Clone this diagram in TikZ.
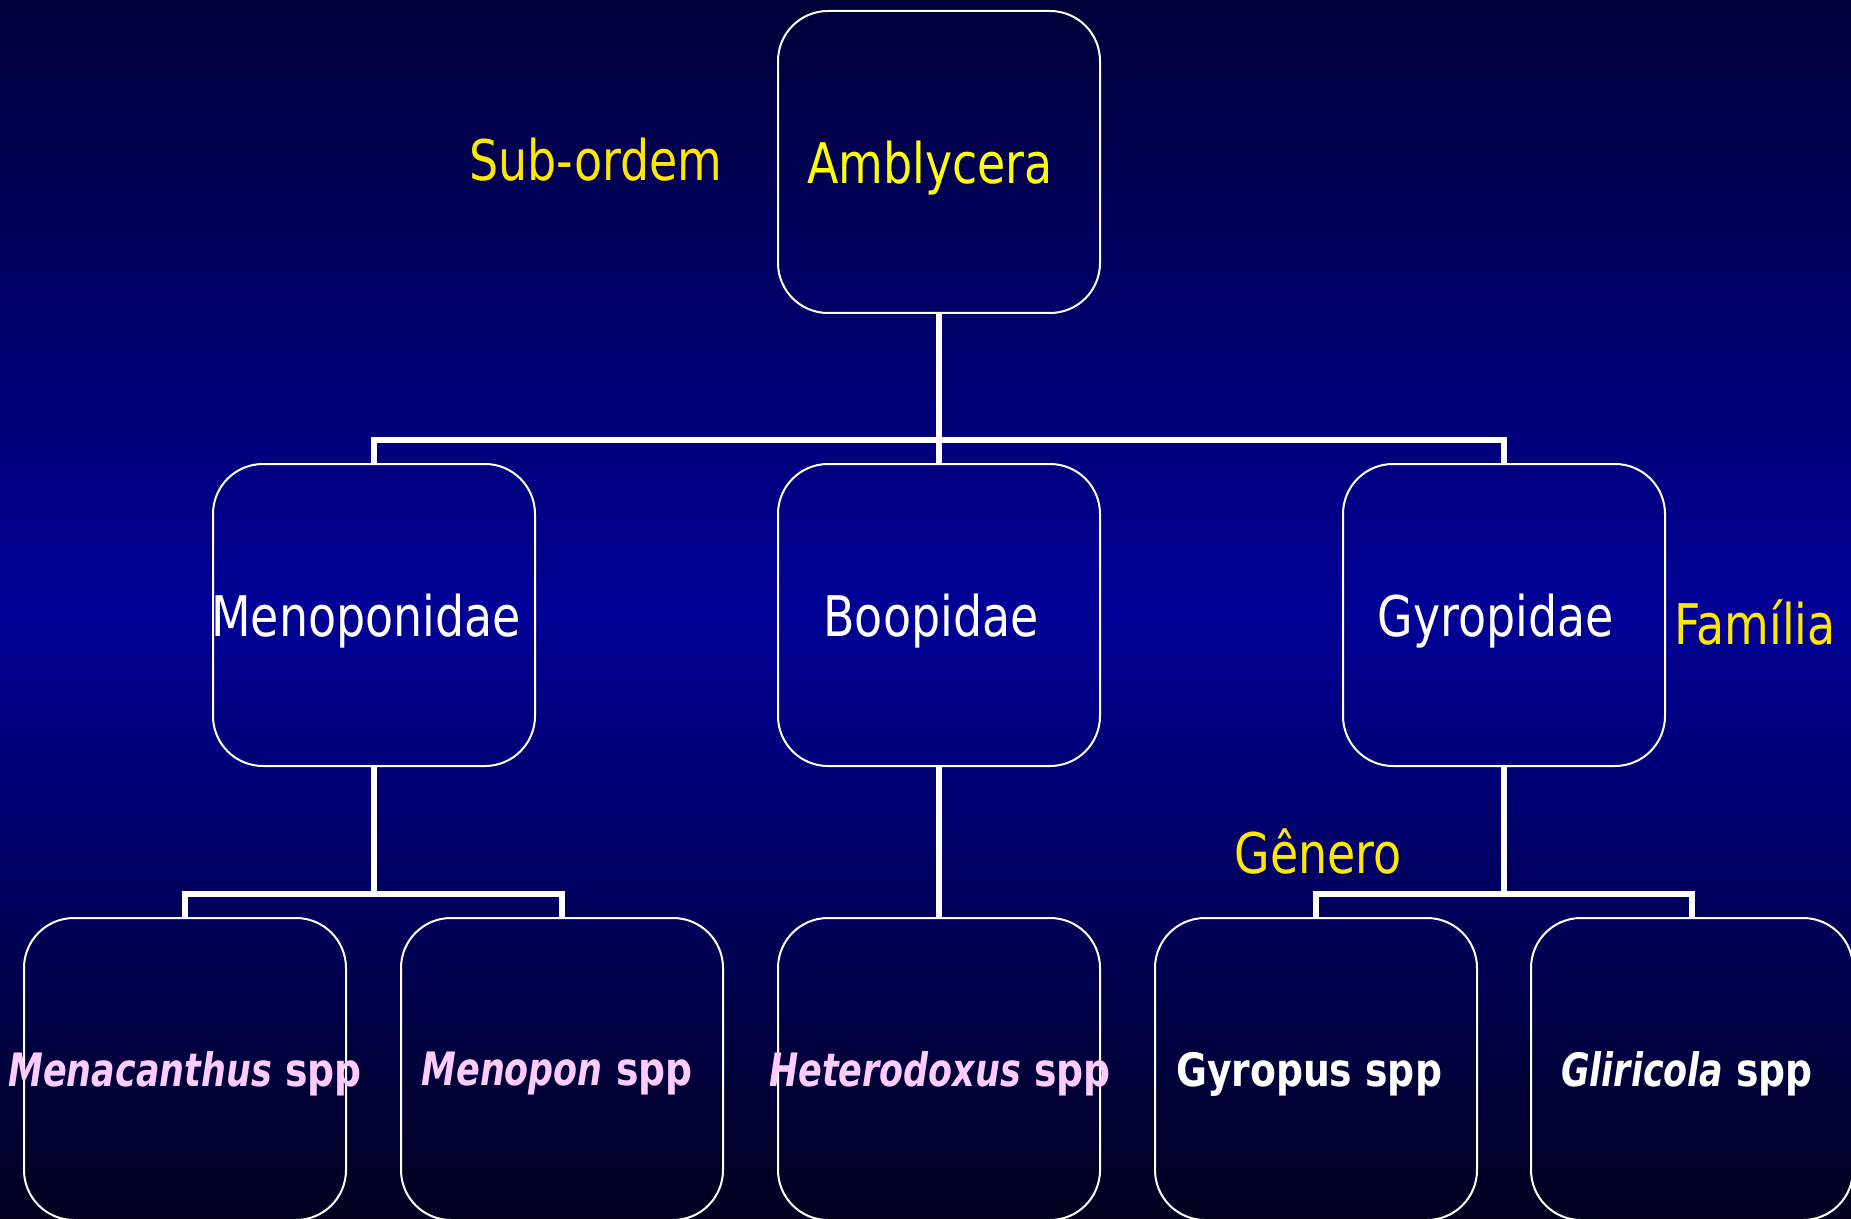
\documentclass[tikz,border=0pt]{standalone}
\usepackage{fontspec}
\setmainfont{DejaVu Sans}[FakeStretch=0.82, BoldItalicFeatures={FakeStretch=0.76}]
\usetikzlibrary{calc}
\definecolor{bgtop}{RGB}{0,0,56}
\definecolor{bgmid}{RGB}{0,0,150}
\definecolor{bgbot}{RGB}{0,0,30}
\definecolor{rankyellow}{RGB}{255,232,0}
\definecolor{taxyellow}{RGB}{255,255,0}
\definecolor{genpink}{RGB}{255,204,255}
\tikzset{
  taxbox/.style={draw=white, line width=1pt, rounded corners=25pt,
    minimum width=161pt, minimum height=151pt, inner sep=0pt},
  taxtext/.style={inner sep=0pt, text=white, font=\fontsize{28}{34}\selectfont},
  gentext/.style={inner sep=0pt, text=white, font=\fontsize{23}{28}\selectfont\bfseries},
  rank/.style={text=rankyellow, inner sep=0pt, font=\fontsize{28}{34}\selectfont},
  conn/.style={draw=white, line width=2.8pt}
}
\begin{document}
\begin{tikzpicture}[x=0.5pt, y=-0.5pt]
  % slide background
  \shade[top color=bgtop, bottom color=bgbot, middle color=bgmid]
    (0,0) rectangle (1851,1219);
  \useasboundingbox (0,0) rectangle (1851,1219);

  % boxes: sub-order, families, genera
  \node[taxbox] (amb) at (939,162) {};
  \node[taxbox] (meno) at (374,615) {};
  \node[taxbox] (boop) at (939,615) {};
  \node[taxbox] (gyro) at (1504,615) {};
  \node[taxbox] (mena) at (185,1069) {};
  \node[taxbox] (menp) at (562,1069) {};
  \node[taxbox] (hete) at (939,1069) {};
  \node[taxbox] (gyrp) at (1316,1069) {};
  \node[taxbox] (glir) at (1692,1069) {};

  % box texts
  \node[taxtext, text=taxyellow] (amb-t) at ($(amb)+(-9,6)$) {Amblycera};
  \node[taxtext] (meno-t) at ($(meno)+(-8,6)$) {Menoponidae};
  \node[taxtext] (boop-t) at ($(boop)+(-8,6)$) {Boopidae};
  \node[taxtext] (gyro-t) at ($(gyro)+(-8,6)$) {Gyropidae};
  \node[gentext, text=genpink] (mena-t) at ($(mena)+(0,5)$) {\itshape Menacanthus\upshape{} spp};
  \node[gentext, text=genpink] (menp-t) at ($(menp)+(-5,5)$) {\itshape Menopon\upshape{} spp};
  \node[gentext, text=genpink] (hete-t) at ($(hete)+(1,5)$) {\itshape Heterodoxus\upshape{} spp};
  \node[gentext] (gyrp-t) at ($(gyrp)+(-7,5)$) {Gyropus spp};
  \node[gentext] (glir-t) at ($(glir)+(-5,5)$) {\itshape Gliricola\upshape{} spp};

  % rank labels
  \node[rank] (lsub) at (596,160) {Sub-ordem};
  \node[rank] (lfam) at (1755,622) {Família};
  \node[rank] (lgen) at (1318,851) {Gênero};

  % tree connectors
  \coordinate (fbus) at (939,440);
  \coordinate (mbus) at (374,894);
  \coordinate (gbus) at (1504,894);
  \draw[conn] (amb.south) -- (boop.north);
  \draw[conn] (meno.north) |- (fbus) -| (gyro.north);
  \draw[conn] (meno.south) -- (mbus);
  \draw[conn] (mena.north) |- (mbus) -| (menp.north);
  \draw[conn] (boop.south) -- (hete.north);
  \draw[conn] (gyro.south) -- (gbus);
  \draw[conn] (gyrp.north) |- (gbus) -| (glir.north);
\end{tikzpicture}
\end{document}
